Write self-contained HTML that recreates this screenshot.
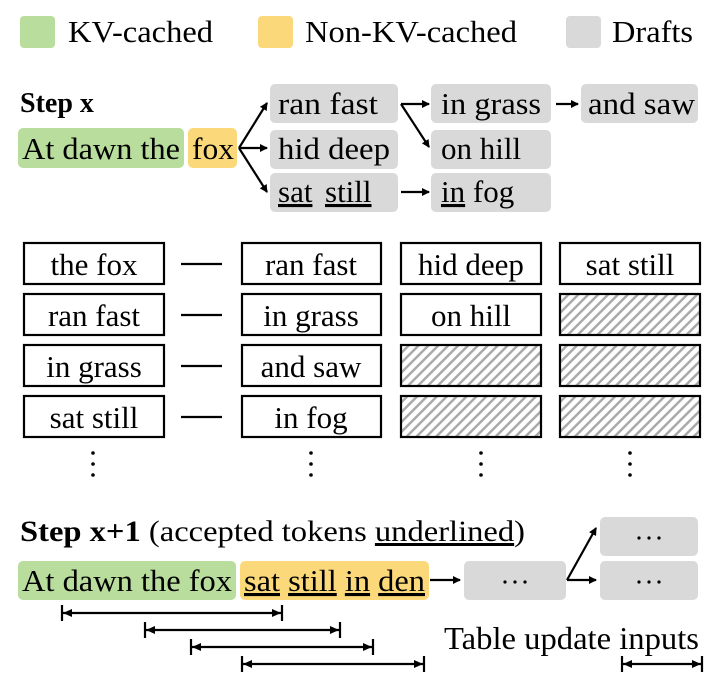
<!DOCTYPE html>
<html><head><style>
html,body{margin:0;padding:0;background:#fff;}
svg{display:block;}
text{font-family:"Liberation Serif",serif;fill:#000;}
</style></head><body>
<svg width="720" height="679" viewBox="0 0 720 679" xmlns="http://www.w3.org/2000/svg">
<defs>
<marker id="ah" markerWidth="8" markerHeight="8" refX="7" refY="4" orient="auto" markerUnits="userSpaceOnUse">
<path d="M0,0 L8,4 L0,8 z" fill="#000"/></marker>
<pattern id="hatch" width="7" height="7" patternUnits="userSpaceOnUse" patternTransform="rotate(45)">
<rect width="7" height="7" fill="#fff"/><rect width="2.5" height="7" fill="#aaa"/></pattern>
</defs>
<!-- legend -->
<rect x="20" y="16" width="35" height="32" rx="4" fill="#b9dd9c"/>
<text x="68" y="42" font-size="31" textLength="145" lengthAdjust="spacingAndGlyphs">KV-cached</text>
<rect x="258" y="16" width="35" height="32" rx="4" fill="#fbd97a"/>
<text x="305" y="42" font-size="31" textLength="212" lengthAdjust="spacingAndGlyphs">Non-KV-cached</text>
<rect x="566" y="16" width="35" height="32" rx="4" fill="#d9d9d9"/>
<text x="612" y="42" font-size="31" textLength="81" lengthAdjust="spacingAndGlyphs">Drafts</text>
<!-- step x -->
<text x="20" y="112" font-size="28" font-weight="bold">Step x</text>
<rect x="18" y="128" width="166" height="40" rx="5" fill="#b9dd9c"/>
<text x="22" y="159" font-size="31" textLength="158" lengthAdjust="spacingAndGlyphs">At dawn the</text>
<rect x="188" y="128" width="49" height="40" rx="5" fill="#fbd97a"/>
<text x="192" y="159" font-size="31" textLength="42" lengthAdjust="spacingAndGlyphs">fox</text>
<g fill="#d9d9d9">
<rect x="270" y="84" width="128" height="39" rx="5"/>
<rect x="270" y="130" width="128" height="39" rx="5"/>
<rect x="270" y="173" width="128" height="39" rx="5"/>
<rect x="431" y="84" width="120" height="39" rx="5"/>
<rect x="431" y="130" width="120" height="39" rx="5"/>
<rect x="431" y="173" width="120" height="39" rx="5"/>
<rect x="581" y="84" width="117" height="39" rx="5"/>
</g>
<g font-size="31">
<text x="278" y="114" textLength="100" lengthAdjust="spacingAndGlyphs">ran fast</text>
<text x="278" y="159" textLength="112" lengthAdjust="spacingAndGlyphs">hid deep</text>
<text x="278" y="202" text-decoration="underline">sat</text><text x="325" y="202" text-decoration="underline">still</text>
<text x="441" y="114" textLength="100" lengthAdjust="spacingAndGlyphs">in grass</text>
<text x="441" y="159">on hill</text>
<text x="441" y="202"><tspan text-decoration="underline">in</tspan> fog</text>
<text x="588" y="114" textLength="107" lengthAdjust="spacingAndGlyphs">and saw</text>
</g>
<g stroke="#000" stroke-width="2.2" fill="none" marker-end="url(#ah)">
<line x1="239" y1="148" x2="267" y2="103"/>
<line x1="239" y1="148" x2="267" y2="148"/>
<line x1="239" y1="148" x2="267" y2="192"/>
<line x1="401" y1="104" x2="429" y2="104"/>
<line x1="401" y1="104" x2="429" y2="147"/>
<line x1="556" y1="104" x2="578" y2="104"/>
<line x1="401" y1="192" x2="429" y2="192"/>
<line x1="430" y1="580" x2="460" y2="580"/>
<line x1="567" y1="580" x2="596" y2="528"/>
<line x1="567" y1="580" x2="596" y2="580"/>
</g>
<!-- table -->
<g stroke="#000" stroke-width="2.2">
<g fill="#fff">
<rect x="24" y="243" width="140" height="41"/><rect x="242" y="243" width="139" height="41"/><rect x="401" y="243" width="140" height="41"/><rect x="560" y="243" width="140" height="41"/>
<rect x="24" y="294" width="140" height="41"/><rect x="242" y="294" width="139" height="41"/><rect x="401" y="294" width="140" height="41"/>
<rect x="24" y="345" width="140" height="41"/><rect x="242" y="345" width="139" height="41"/>
<rect x="24" y="396" width="140" height="41"/><rect x="242" y="396" width="139" height="41"/>
</g>
<g fill="url(#hatch)">
<rect x="560" y="294" width="140" height="41"/>
<rect x="401" y="345" width="140" height="41"/><rect x="560" y="345" width="140" height="41"/>
<rect x="401" y="396" width="140" height="41"/><rect x="560" y="396" width="140" height="41"/>
</g>
<line x1="181" y1="264" x2="222" y2="264"/><line x1="181" y1="315" x2="222" y2="315"/>
<line x1="181" y1="366" x2="222" y2="366"/><line x1="181" y1="417" x2="222" y2="417"/>
</g>
<g font-size="31" text-anchor="middle">
<text x="94" y="275">the fox</text><text x="311" y="275">ran fast</text><text x="471" y="275">hid deep</text><text x="630" y="275">sat still</text>
<text x="94" y="326">ran fast</text><text x="311" y="326">in grass</text><text x="471" y="326">on hill</text>
<text x="94" y="377">in grass</text><text x="311" y="377">and saw</text>
<text x="94" y="428">sat still</text><text x="311" y="428">in fog</text>
</g>
<g fill="#000">
<circle cx="93" cy="453" r="1.8"/><circle cx="93" cy="464" r="1.8"/><circle cx="93" cy="475" r="1.8"/>
<circle cx="311" cy="453" r="1.8"/><circle cx="311" cy="464" r="1.8"/><circle cx="311" cy="475" r="1.8"/>
<circle cx="481" cy="453" r="1.8"/><circle cx="481" cy="464" r="1.8"/><circle cx="481" cy="475" r="1.8"/>
<circle cx="630" cy="453" r="1.8"/><circle cx="630" cy="464" r="1.8"/><circle cx="630" cy="475" r="1.8"/>
</g>
<!-- step x+1 -->
<text x="20" y="541" font-size="30" textLength="505" lengthAdjust="spacingAndGlyphs"><tspan font-weight="bold">Step x+1</tspan> (accepted tokens <tspan text-decoration="underline">underlined</tspan>)</text>
<rect x="18" y="561" width="218" height="39" rx="5" fill="#b9dd9c"/>
<rect x="240" y="561" width="189" height="39" rx="5" fill="#fbd97a"/>
<text x="22" y="591" font-size="31" textLength="210" lengthAdjust="spacingAndGlyphs">At dawn the fox</text>
<text x="244" y="591" font-size="31" textLength="181" lengthAdjust="spacingAndGlyphs"><tspan text-decoration="underline">sat</tspan> <tspan text-decoration="underline">still</tspan> <tspan text-decoration="underline">in</tspan> <tspan text-decoration="underline">den</tspan></text>
<g fill="#d9d9d9">
<rect x="464" y="561" width="102" height="39" rx="5"/>
<rect x="600" y="517" width="98" height="39" rx="5"/>
<rect x="600" y="561" width="98" height="39" rx="5"/>
</g>
<g fill="#000">
<circle cx="505" cy="582" r="1.6"/><circle cx="515" cy="582" r="1.6"/><circle cx="525" cy="582" r="1.6"/>
<circle cx="639" cy="538" r="1.6"/><circle cx="649" cy="538" r="1.6"/><circle cx="659" cy="538" r="1.6"/>
<circle cx="639" cy="582" r="1.6"/><circle cx="649" cy="582" r="1.6"/><circle cx="659" cy="582" r="1.6"/>
</g>
<text x="444" y="649" font-size="32" textLength="255" lengthAdjust="spacingAndGlyphs">Table update inputs</text>
<g stroke="#000" stroke-width="2.2">
<line x1="62" y1="613" x2="282" y2="613"/><line x1="62" y1="605" x2="62" y2="621"/><line x1="282" y1="605" x2="282" y2="621"/>
<line x1="145" y1="630" x2="340" y2="630"/><line x1="145" y1="622" x2="145" y2="638"/><line x1="340" y1="622" x2="340" y2="638"/>
<line x1="191" y1="647" x2="373" y2="647"/><line x1="191" y1="639" x2="191" y2="655"/><line x1="373" y1="639" x2="373" y2="655"/>
<line x1="242" y1="664" x2="424" y2="664"/><line x1="242" y1="656" x2="242" y2="672"/><line x1="424" y1="656" x2="424" y2="672"/>
<line x1="622" y1="664" x2="702" y2="664"/><line x1="622" y1="656" x2="622" y2="672"/><line x1="702" y1="656" x2="702" y2="672"/>
</g>
<g fill="#000">
<path d="M63,613 l9,-4 v8z"/><path d="M281,613 l-9,-4 v8z"/>
<path d="M146,630 l9,-4 v8z"/><path d="M339,630 l-9,-4 v8z"/>
<path d="M192,647 l9,-4 v8z"/><path d="M372,647 l-9,-4 v8z"/>
<path d="M243,664 l9,-4 v8z"/><path d="M423,664 l-9,-4 v8z"/>
<path d="M623,664 l9,-4 v8z"/><path d="M701,664 l-9,-4 v8z"/>
</g>
</svg>
</body></html>
